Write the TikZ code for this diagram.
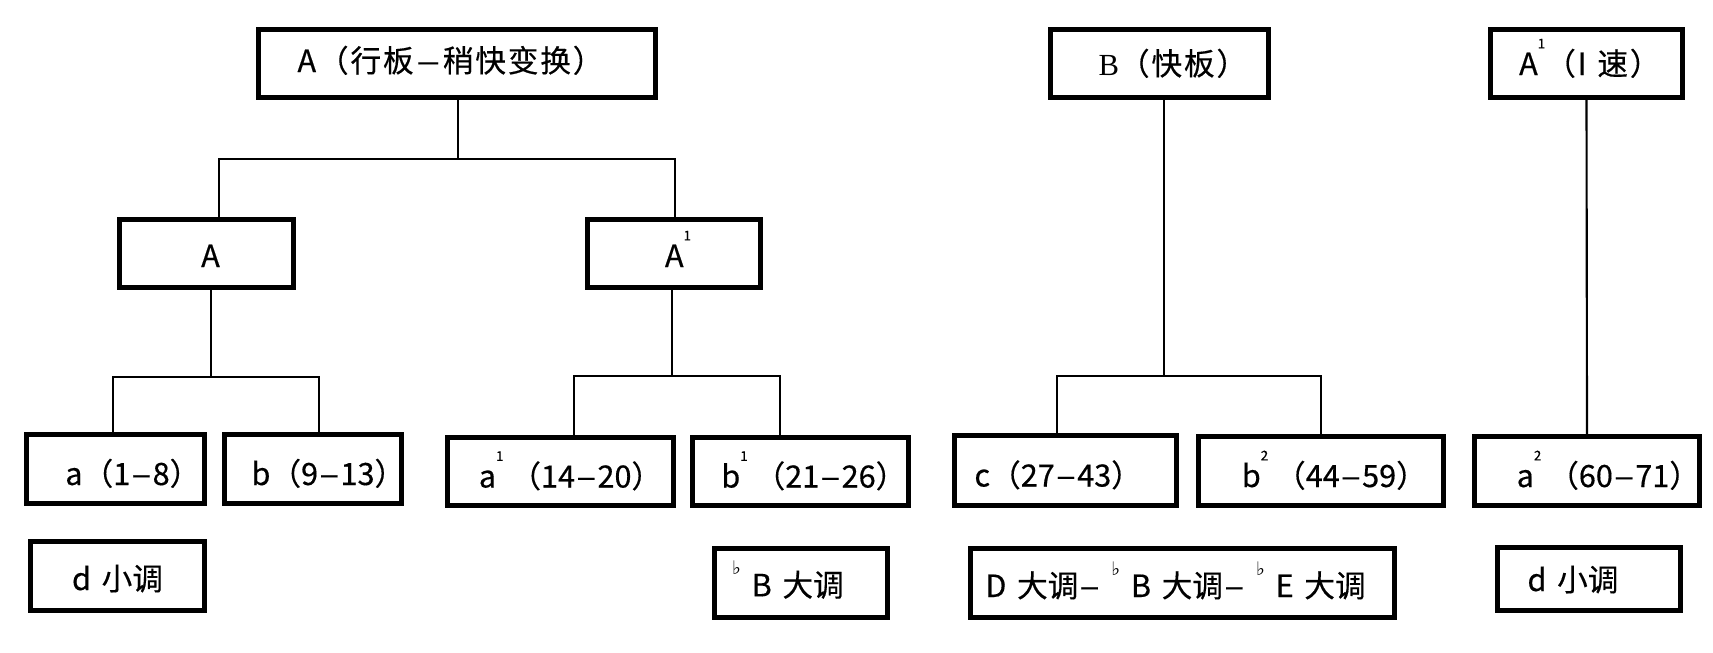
\documentclass[tikz,border=0pt]{standalone}
\usepackage{fontspec}
\usepackage{graphicx}
\setmainfont{Noto Sans CJK SC}[FakeBold=0.4]
\newfontfamily\dejavu{DejaVu Sans}
\newfontfamily\serifB{Liberation Serif}
\newcommand\spx[1]{\raisebox{20pt}{\fontsize{10pt}{10pt}\selectfont #1}}
\newcommand\flt{\raisebox{16.5pt}{\fontsize{14pt}{14pt}\selectfont\dejavu ♭}}
\newcommand\tsh[2]{\makebox[0pt][c]{\hspace*{#1}#2}}
\newcommand\sps{\hspace{8pt}}
\newcommand\dsh{\kern1pt\scalebox{1.2}[1]{–}\kern1pt}
\newcommand\dshw{\kern2pt\scalebox{1.45}[1]{–}\kern2pt}
\begin{document}
\begin{tikzpicture}[x=0.75pt,y=-0.75pt,
  bx/.style={draw=black, line width=3.6pt, inner sep=0pt, text depth=0pt,
    font=\fontsize{23pt}{27pt}\selectfont},
  topbx/.style={bx, font=\fontsize{23pt}{27pt}\selectfont\addfontfeatures{LetterSpace=6}},
  conn/.style={draw=black, line width=1.6pt}]
\fill[white] (0,0) rectangle (1713,653);
\useasboundingbox (0,0) rectangle (1713,653);

% top row
\node[topbx, minimum width=297.75pt, minimum height=51pt, text height=12.75pt] (topA) at (457,63.5) {\tsh{-9.75pt}{A（行板\dshw 稍快变换）}};
\node[topbx, minimum width=163.5pt, minimum height=51pt, text height=17.25pt] (topB) at (1159.5,63.5) {\tsh{20pt}{{\serifB B}（快板）}};
\node[topbx, minimum width=144pt, minimum height=51pt, text height=17.25pt] (topR) at (1586.5,63.5) {\tsh{5pt}{A\spx{1}（I\sps 速）}};

% second row
\node[bx, minimum width=130.5pt, minimum height=51pt, text height=20.25pt] (LA) at (206.5,253.5) {\tsh{6pt}{A}};
\node[bx, minimum width=129.75pt, minimum height=51pt, text height=20.25pt] (LA1) at (674,253.5) {\tsh{6pt}{A\spx{1}}};

% third row
\node[bx, minimum width=133.5pt, minimum height=51.75pt, text height=24pt] (a) at (115.5,469) {\tsh{26pt}{a（1\dsh 8）}};
\node[bx, minimum width=132.75pt, minimum height=51.75pt, text height=24pt] (b) at (313,469) {\tsh{23pt}{b（9\dsh 13）}};
\node[bx, minimum width=169.5pt, minimum height=51pt, text height=24pt] (a1) at (560.5,471.5) {\tsh{15pt}{a\spx{1} （14\dsh 20）}};
\node[bx, minimum width=162pt, minimum height=51pt, text height=24pt] (b1) at (800.5,471.5) {\tsh{20pt}{b\spx{1} （21\dsh 26）}};
\node[bx, minimum width=166.5pt, minimum height=52.5pt, text height=24pt] (c) at (1065.5,470.5) {\tsh{-11pt}{c（27\dsh 43）}};
\node[bx, minimum width=183.75pt, minimum height=51.75pt, text height=24pt] (b2) at (1321,471) {\tsh{20pt}{b\spx{2} （44\dsh 59）}};
\node[bx, minimum width=168.75pt, minimum height=51.75pt, text height=24pt] (a2) at (1587,471) {\tsh{32pt}{a\spx{2} （60\dsh 71）}};

% bottom row
\node[bx, minimum width=130.5pt, minimum height=51.75pt, text height=21pt] (kL) at (117.5,576) {\tsh{0pt}{d\sps 小调}};
\node[bx, minimum width=129.75pt, minimum height=51.75pt, text height=20pt] (kB) at (801,583) {\tsh{-19.5pt}{\flt\sps B\sps 大调}};
\node[bx, minimum width=318pt, minimum height=51.75pt, text height=21pt] (kD) at (1182.5,583) {\tsh{-10.5pt}{D\sps 大调\dsh\sps\flt\sps B\sps 大调\dsh\sps\flt\sps E\sps 大调}};
\node[bx, minimum width=137.25pt, minimum height=47.25pt, text height=18pt] (kR) at (1589,579) {\tsh{-24pt}{d\sps 小调}};

% connectors
\coordinate (jT) at (458,159);
\coordinate (jTL) at (219,159);
\coordinate (jTR) at (675,159);
\draw[conn] (topA.south -| jT) -- (jT);
\draw[conn] (jTL |- LA.north) -- (jTL) -- (jTR) -- (jTR |- LA1.north);

\coordinate (jA) at (211,377);
\coordinate (jAL) at (113,377);
\coordinate (jAR) at (319,377);
\draw[conn] (LA.south -| jA) -- (jA);
\draw[conn] (jAL |- a.north) -- (jAL) -- (jAR) -- (jAR |- b.north);

\coordinate (jA1) at (672,376);
\coordinate (jA1L) at (574,376);
\coordinate (jA1R) at (780,376);
\draw[conn] (LA1.south -| jA1) -- (jA1);
\draw[conn] (jA1L |- a1.north) -- (jA1L) -- (jA1R) -- (jA1R |- b1.north);

\coordinate (jB) at (1164,376);
\coordinate (jBL) at (1057,376);
\coordinate (jBR) at (1321,376);
\draw[conn] (topB.south -| jB) -- (jB);
\draw[conn] (jBL |- c.north) -- (jBL) -- (jBR) -- (jBR |- b2.north);

\draw[conn] (topR.south) -- (a2.north);
\end{tikzpicture}
\end{document}
